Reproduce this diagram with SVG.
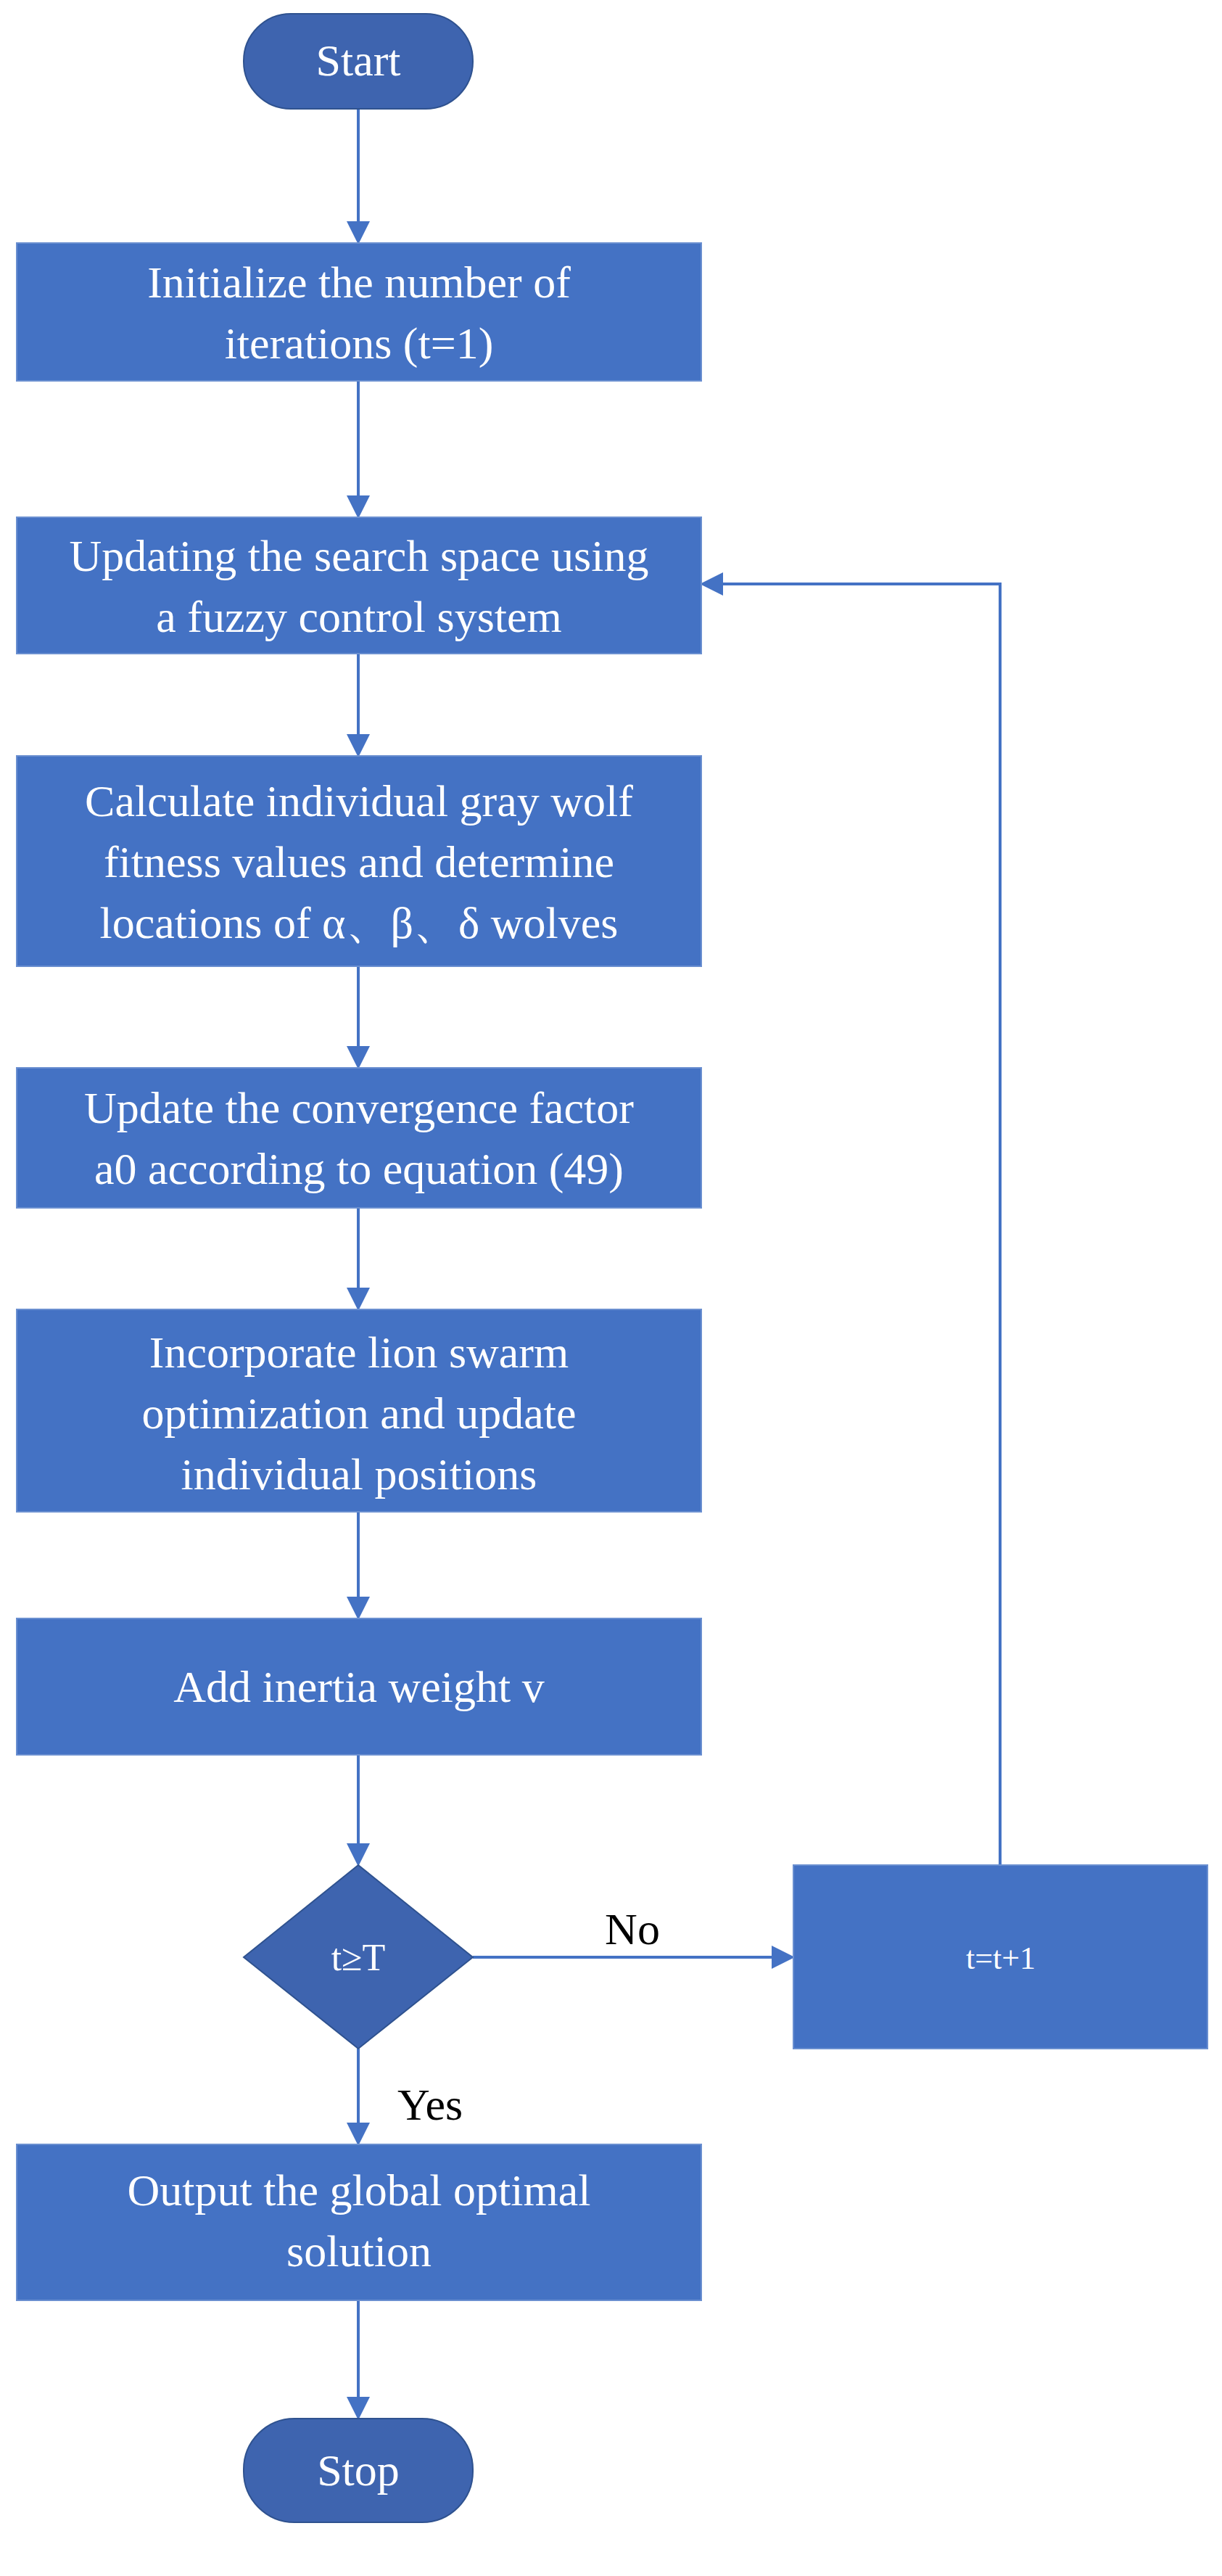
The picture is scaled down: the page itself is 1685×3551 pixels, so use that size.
<svg xmlns="http://www.w3.org/2000/svg" width="1685" height="3551" viewBox="0 0 1685 3551">
<style>
.b{fill:#4472C4;stroke:#6A8FD0;stroke-width:2}
.t{fill:#3E64AF;stroke:#2F528F;stroke-width:2}
text{font-family:"Liberation Serif","Times New Roman",serif;font-size:62px;fill:#fff;text-anchor:middle}
.k{fill:#000}
.c{fill:none;stroke:#4472C4;stroke-width:4}
</style>
<defs><marker id="a" markerWidth="8" markerHeight="8" refX="7" refY="4" orient="auto" markerUnits="strokeWidth"><path d="M0,0L8,4L0,8z" fill="#4472C4"/></marker></defs>
<g id="connectors">
<path class="c" d="M494,150V333" marker-end="url(#a)"/>
<path class="c" d="M494,525V711" marker-end="url(#a)"/>
<path class="c" d="M494,901V1040" marker-end="url(#a)"/>
<path class="c" d="M494,1332V1470" marker-end="url(#a)"/>
<path class="c" d="M494,1665V1803" marker-end="url(#a)"/>
<path class="c" d="M494,2084V2229" marker-end="url(#a)"/>
<path class="c" d="M494,2419V2569" marker-end="url(#a)"/>
<path class="c" d="M652,2698H1092" marker-end="url(#a)"/>
<path class="c" d="M494,2824V2954" marker-end="url(#a)"/>
<path class="c" d="M494,3171V3332" marker-end="url(#a)"/>
<path class="c" d="M1379,2571V805H969" marker-end="url(#a)"/>
<text class="k" x="872" y="2680">No</text>
<text class="k" x="593" y="2922">Yes</text>
</g>
<g id="start"><rect class="t" x="336" y="19" width="316" height="131" rx="65"/><text x="494" y="104">Start</text></g>
<g id="init"><rect class="b" x="23" y="335" width="944" height="190"/><text x="495" y="410">Initialize the number of</text><text x="495" y="494">iterations (t=1)</text></g>
<g id="update"><rect class="b" x="23" y="713" width="944" height="188"/><text x="495" y="787">Updating the search space using</text><text x="495" y="871">a fuzzy control system</text></g>
<g id="calc"><rect class="b" x="23" y="1042" width="944" height="290"/><text x="495" y="1125">Calculate individual gray wolf</text><text x="495" y="1209">fitness values and determine</text><text x="495" y="1293">locations of α、β、δ wolves</text></g>
<g id="conv"><rect class="b" x="23" y="1472" width="944" height="193"/><text x="495" y="1548">Update the convergence factor</text><text x="495" y="1632">a0 according to equation (49)</text></g>
<g id="lion"><rect class="b" x="23" y="1805" width="944" height="279"/><text x="495" y="1885">Incorporate lion swarm</text><text x="495" y="1969">optimization and update</text><text x="495" y="2053">individual positions</text></g>
<g id="inertia"><rect class="b" x="23" y="2231" width="944" height="188"/><text x="495" y="2346">Add inertia weight v</text></g>
<g id="cond"><path class="t" d="M494,2571L652,2698L494,2824L336,2698z" style="fill:#3E64AF"/><text x="494" y="2716" style="font-size:52px">t≥T</text></g>
<g id="inc"><rect class="b" x="1094" y="2571" width="571" height="253"/><text x="1380" y="2714" style="font-size:44px">t=t+1</text></g>
<g id="output"><rect class="b" x="23" y="2956" width="944" height="215"/><text x="495" y="3040">Output the global optimal</text><text x="495" y="3124">solution</text></g>
<g id="stop"><rect class="t" x="336" y="3334" width="316" height="143" rx="70"/><text x="494" y="3426">Stop</text></g>
</svg>
